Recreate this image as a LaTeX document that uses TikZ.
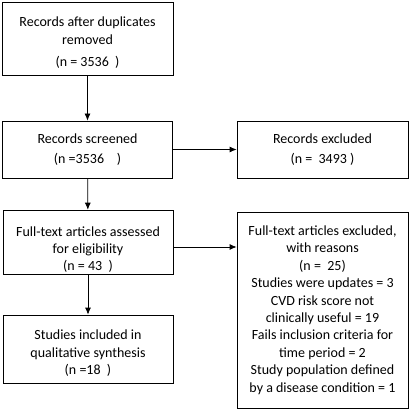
\documentclass[tikz,border=0pt]{standalone}
\usepackage{fontspec}
\setmainfont{Carlito}
\usetikzlibrary{arrows.meta}
\tikzset{
  box/.style={draw, line width=0.8pt, align=center, inner sep=2pt,
    font=\fontsize{14}{17.4}\selectfont},
  flow/.style={line width=0.8pt, -{Latex[length=7pt,width=6pt]}}
}
\begin{document}
\begin{tikzpicture}[x=1pt,y=-1pt]
    \useasboundingbox (0,0) rectangle (410,409);
    \node[box, minimum width=171pt, minimum height=73pt] (dup) at (87.5,38.5) {\rule{0pt}{18pt}Records after duplicates\\removed\\[5pt](n = 3536\ \ )};
    \node[box, minimum width=170pt, minimum height=57pt] (screen) at (87.5,149.5) {Records screened\\[3pt](n =3536\ \ \ \ )};
    \node[box, minimum width=171pt, minimum height=57pt] (excl) at (322.5,149.5) {Records excluded\\[3pt](n =\ \ 3493 )};
    \node[box, minimum width=170pt, minimum height=61pt] (full) at (88,242.5) {\rule{0pt}{24pt}Full-text articles assessed\\for eligibility\\(n = 43\ \ )};
    \node[box, minimum width=171pt, minimum height=196pt] (fullexcl) at (322.5,310) {Full-text articles excluded,\\with reasons\\(n =\ \ 25)\\Studies were updates = 3\\CVD risk score not\\clinically useful = 19\\Fails inclusion criteria for\\time period = 2\\Study population defined\\by a disease condition = 1};
    \node[box, minimum width=170pt, minimum height=68pt] (incl) at (88,349) {\rule{0pt}{18pt}Studies included in\\qualitative synthesis\\(n =18\ \ )};
    \draw[flow] (dup) -- (screen);
    \draw[flow] (screen) -- (excl);
    \draw[flow] (screen) -- (full);
    \draw[flow] ([yshift=-4.5pt]full.east) -- ([yshift=-4.5pt]full.east -| fullexcl.west);
    \draw[flow] (full) -- (incl);
\end{tikzpicture}
\end{document}
